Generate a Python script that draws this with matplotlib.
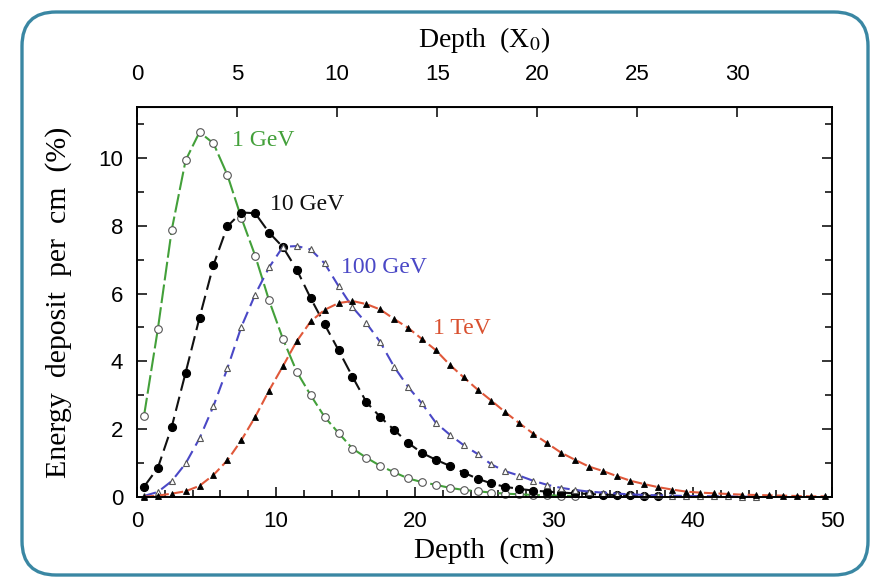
import matplotlib
matplotlib.use('Agg')
import matplotlib.pyplot as plt
from matplotlib.patches import FancyBboxPatch
from matplotlib.transforms import IdentityTransform
from matplotlib.ticker import MultipleLocator

plt.rcParams['mathtext.fontset'] = 'stix'

# ---------------- data ----------------
depth_cm = [0.5, 1.5, 2.5, 3.5, 4.5, 5.5, 6.5, 7.5, 8.5, 9.5,
            10.5, 11.5, 12.5, 13.5, 14.5, 15.5, 16.5, 17.5, 18.5, 19.5,
            20.5, 21.5, 22.5, 23.5, 24.5, 25.5, 26.5, 27.5, 28.5, 29.5,
            30.5, 31.5, 32.5, 33.5, 34.5, 35.5, 36.5, 37.5, 38.5, 39.5,
            40.5, 41.5, 42.5, 43.5, 44.5, 45.5, 46.5, 47.5, 48.5, 49.5]

e_1gev = [2.38, 4.95, 7.88, 9.93, 10.76, 10.43, 9.50, 8.24, 7.12, 5.80,
          4.66, 3.69, 3.00, 2.36, 1.89, 1.43, 1.16, 0.92, 0.73, 0.55,
          0.44, 0.36, 0.27, 0.21, 0.17, 0.13, 0.10, 0.08, 0.06, 0.05,
          0.04, 0.03]

e_10gev = [0.30, 0.86, 2.07, 3.67, 5.29, 6.84, 7.98, 8.39, 8.37, 7.80,
           7.37, 6.70, 5.86, 5.09, 4.33, 3.55, 2.80, 2.36, 1.98, 1.60,
           1.30, 1.10, 0.92, 0.72, 0.54, 0.40, 0.30, 0.24, 0.19, 0.16,
           0.13, 0.11, 0.09, 0.07, 0.06, 0.05, 0.04, 0.03]

e_100gev = [0.03, 0.15, 0.47, 0.99, 1.73, 2.68, 3.79, 5.01, 5.97, 6.77,
            7.38, 7.40, 7.30, 6.89, 6.22, 5.60, 5.13, 4.57, 3.84, 3.25,
            2.76, 2.19, 1.84, 1.53, 1.27, 0.96, 0.76, 0.63, 0.48, 0.36,
            0.27, 0.21, 0.16, 0.13, 0.10, 0.08, 0.06, 0.05, 0.04, 0.03,
            0.03, 0.02, 0.02, 0.01, 0.01]

e_1tev = [0.01, 0.04, 0.10, 0.17, 0.33, 0.65, 1.08, 1.67, 2.36, 3.14,
          3.86, 4.60, 5.18, 5.52, 5.72, 5.78, 5.69, 5.53, 5.25, 4.99,
          4.66, 4.33, 3.90, 3.53, 3.17, 2.84, 2.50, 2.18, 1.87, 1.59,
          1.31, 1.10, 0.90, 0.77, 0.62, 0.48, 0.38, 0.29, 0.22, 0.16,
          0.13, 0.11, 0.09, 0.07, 0.06, 0.05, 0.04, 0.03, 0.02, 0.02]

series_names = ['1 GeV', '10 GeV', '100 GeV', '1 TeV']
radiation_length_cm = 1.44
x_ticks_top = [0, 5, 10, 15, 20, 25, 30]

# ---------------- figure ----------------
fig = plt.figure(figsize=(8.72, 5.78), dpi=100)
fig.patch.set_facecolor('white')

frame = FancyBboxPatch((22, 3), 846, 563,
                       boxstyle='round,pad=0,rounding_size=34',
                       transform=IdentityTransform(), facecolor='none',
                       edgecolor='#3a87a3', linewidth=2.4, zorder=0)
fig.patches.append(frame)

ax = fig.add_axes([0.1571, 0.1401, 0.7970, 0.6747])

serif = ['Liberation Serif', 'DejaVu Serif']
narrow = ['Liberation Sans Narrow', 'Liberation Sans', 'DejaVu Sans']

styles = [
    dict(color='#43a03a', ls=(0, (9, 2)), marker='o', mfc='white', mec='#555555', ms=5.5, mew=0.8),
    dict(color='#111111', ls=(0, (7, 3)), marker='o', mfc='black', mec='black', ms=5.8, mew=0.8),
    dict(color='#4a48c6', ls=(0, (6, 3)), marker='^', mfc='white', mec='#555555', ms=4.8, mew=0.8),
    dict(color='#e0583a', ls=(0, (5, 2)), marker='^', mfc='black', mec='black', ms=4.8, mew=0.6),
]
datasets = [e_1gev, e_10gev, e_100gev, e_1tev]
for vals, st in zip(datasets, styles):
    ax.plot(depth_cm[:len(vals)], vals, color=st['color'], linestyle=st['ls'],
            linewidth=1.5, marker=st['marker'], markerfacecolor=st['mfc'],
            markeredgecolor=st['mec'], markersize=st['ms'], markeredgewidth=st['mew'],
            clip_on=False)

label_pos = [(6.85, 10.5), (9.6, 8.62), (14.7, 6.76), (21.3, 4.97)]
label_cols = ['#43a03a', '#111111', '#4a48c6', '#d9502f']
for name, (lx, ly), c in zip(series_names, label_pos, label_cols):
    ax.text(lx, ly, name, color=c, fontsize=17, family=serif, va='center', ha='left')

ax.set_xlim(0, 50)
ax.set_ylim(0, 11.5)
ax.xaxis.set_major_locator(MultipleLocator(10))
ax.xaxis.set_minor_locator(MultipleLocator(2))
ax.yaxis.set_major_locator(MultipleLocator(2))
ax.yaxis.set_minor_locator(MultipleLocator(1))
ax.tick_params(which='both', direction='in', right=True, top=False, width=1.1,
               labelsize=16)
ax.tick_params(axis='x', which='both', pad=10)
ax.tick_params(axis='y', which='both', pad=10)
ax.tick_params(which='major', length=7)
ax.tick_params(which='minor', length=5)
for lab in ax.get_xticklabels() + ax.get_yticklabels():
    lab.set_family(narrow)
for sp in ax.spines.values():
    sp.set_linewidth(1.4)

ax.set_xlabel('Depth  (cm)', family=serif, fontsize=21, labelpad=4)
ax.set_ylabel('Energy  deposit  per  cm  (%)', family=serif, fontsize=21.5, labelpad=19)

top = ax.secondary_xaxis('top', functions=(lambda x: x / radiation_length_cm,
                                           lambda x: x * radiation_length_cm))
top.set_xticks(x_ticks_top)
top.tick_params(direction='in', length=7, width=1.1, labelsize=16, pad=16)
for lab in top.get_xticklabels():
    lab.set_family(narrow)
top.set_xlabel('Depth  (X$_\\mathrm{0}$)', family=serif, fontsize=20, labelpad=12)

fig.savefig('out.png', dpi=100)
